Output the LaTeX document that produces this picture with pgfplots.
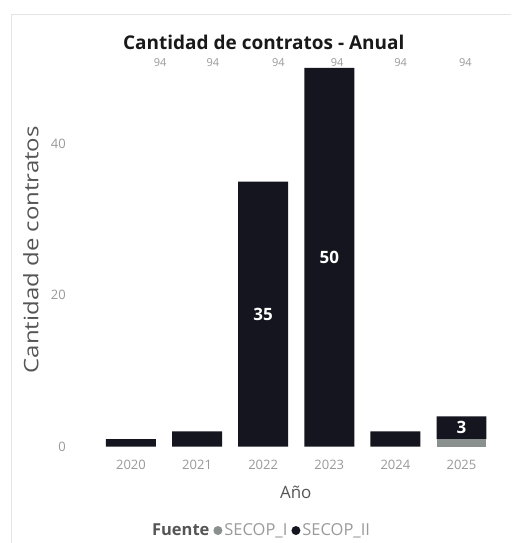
\documentclass[border=0pt]{standalone}
\usepackage{graphicx}
\usepackage{pgfplots}
\pgfplotsset{compat=1.18}
\usepackage{fontspec}
\setmainfont{Open Sans}
\definecolor{barII}{HTML}{15151F}
\definecolor{barI}{HTML}{8A908D}
\definecolor{tickgray}{HTML}{9A9A9A}
\definecolor{labgray}{HTML}{555555}
\begin{document}
\begin{tikzpicture}[x=1pt,y=1pt]
\fill[white] (0,0) rectangle (511,543);
\draw[gray!20, line width=1pt] (12,0) -- (12,528) -- (511,528);
\begin{axis}[
  at={(98pt,96pt)}, anchor=south west,
  scale only axis, width=397pt, height=394.2pt,
  ybar stacked, bar width=50pt,
  xmin=-0.5, xmax=5.5, ymin=0, ymax=52,
  xtick={0,1,2,3,4,5}, xticklabels={2020,2021,2022,2023,2024,2025},
  ytick={0,20,40},
  axis line style={draw=none}, major tick length=0pt,
  tick label style={font=\fontsize{13}{15}\selectfont, text=tickgray},
  /pgf/number format/assume math mode=true,
  yticklabel style={anchor=east, inner sep=0pt, xshift=-32pt},
  xticklabel style={anchor=north, inner sep=0pt, yshift=-13pt},
  clip=false,
  legend columns=-1,
  legend cell align=left,
  legend style={draw=none, fill=none, at={(0.131,-0.2131)}, anchor=west, inner sep=0pt,
    font=\fontsize{16.5}{19}\selectfont, text=tickgray,
    /tikz/every even column/.append style={column sep=2pt},
    /tikz/every odd column/.append style={column sep=0pt}},
]
\addlegendimage{empty legend}
\addlegendentry{\textcolor{labgray}{\bfseries Fuente}}
\addplot[fill=barI, draw=none, legend image code/.code={\fill[barI] (2pt,0pt) circle (4.5pt);}]
  coordinates {(0,0) (1,0) (2,0) (3,0) (4,0) (5,1)};
\addlegendentry{SECOP\_I}
\addplot[fill=barII, draw=none, legend image code/.code={\fill[barII] (2pt,0pt) circle (4.5pt);}]
  coordinates {(0,1) (1,2) (2,35) (3,50) (4,2) (5,3)};
\addlegendentry{SECOP\_II}
\coordinate (l35) at (axis cs:2,17.5);
\coordinate (l50) at (axis cs:3,25);
\coordinate (l3) at (axis cs:5,2.5);
\coordinate (t0) at (axis cs:0.44,50.7);
\coordinate (t1) at (axis cs:1.24,50.7);
\coordinate (t2) at (axis cs:2.23,50.7);
\coordinate (t3) at (axis cs:3.12,50.7);
\coordinate (t4) at (axis cs:4.08,50.7);
\coordinate (t5) at (axis cs:5.06,50.7);
\end{axis}
\foreach \c in {l35,l50,l3}{}
\node[text=white, font=\bfseries\fontsize{17}{19}\selectfont] at (l35) {35};
\node[text=white, font=\bfseries\fontsize{17}{19}\selectfont] at (l50) {50};
\node[text=white, font=\bfseries\fontsize{17}{19}\selectfont] at (l3) {3};
\foreach \c in {t0,t1,t2,t3,t4,t5}
  \node[text=tickgray, font=\fontsize{11}{13}\selectfont] at (\c) {94};
\node[font=\bfseries\fontsize{19}{22}\selectfont, text=black!90] at (264,501) {Cantidad de contratos - Anual};
\node[rotate=90, text=labgray, font=\fontsize{20}{23}\selectfont] at (31,293) {\scalebox{1.2}[1]{Cantidad de contratos}};
\node[text=labgray, font=\fontsize{17}{20}\selectfont] at (296,50) {Año};
\end{tikzpicture}
\end{document}
